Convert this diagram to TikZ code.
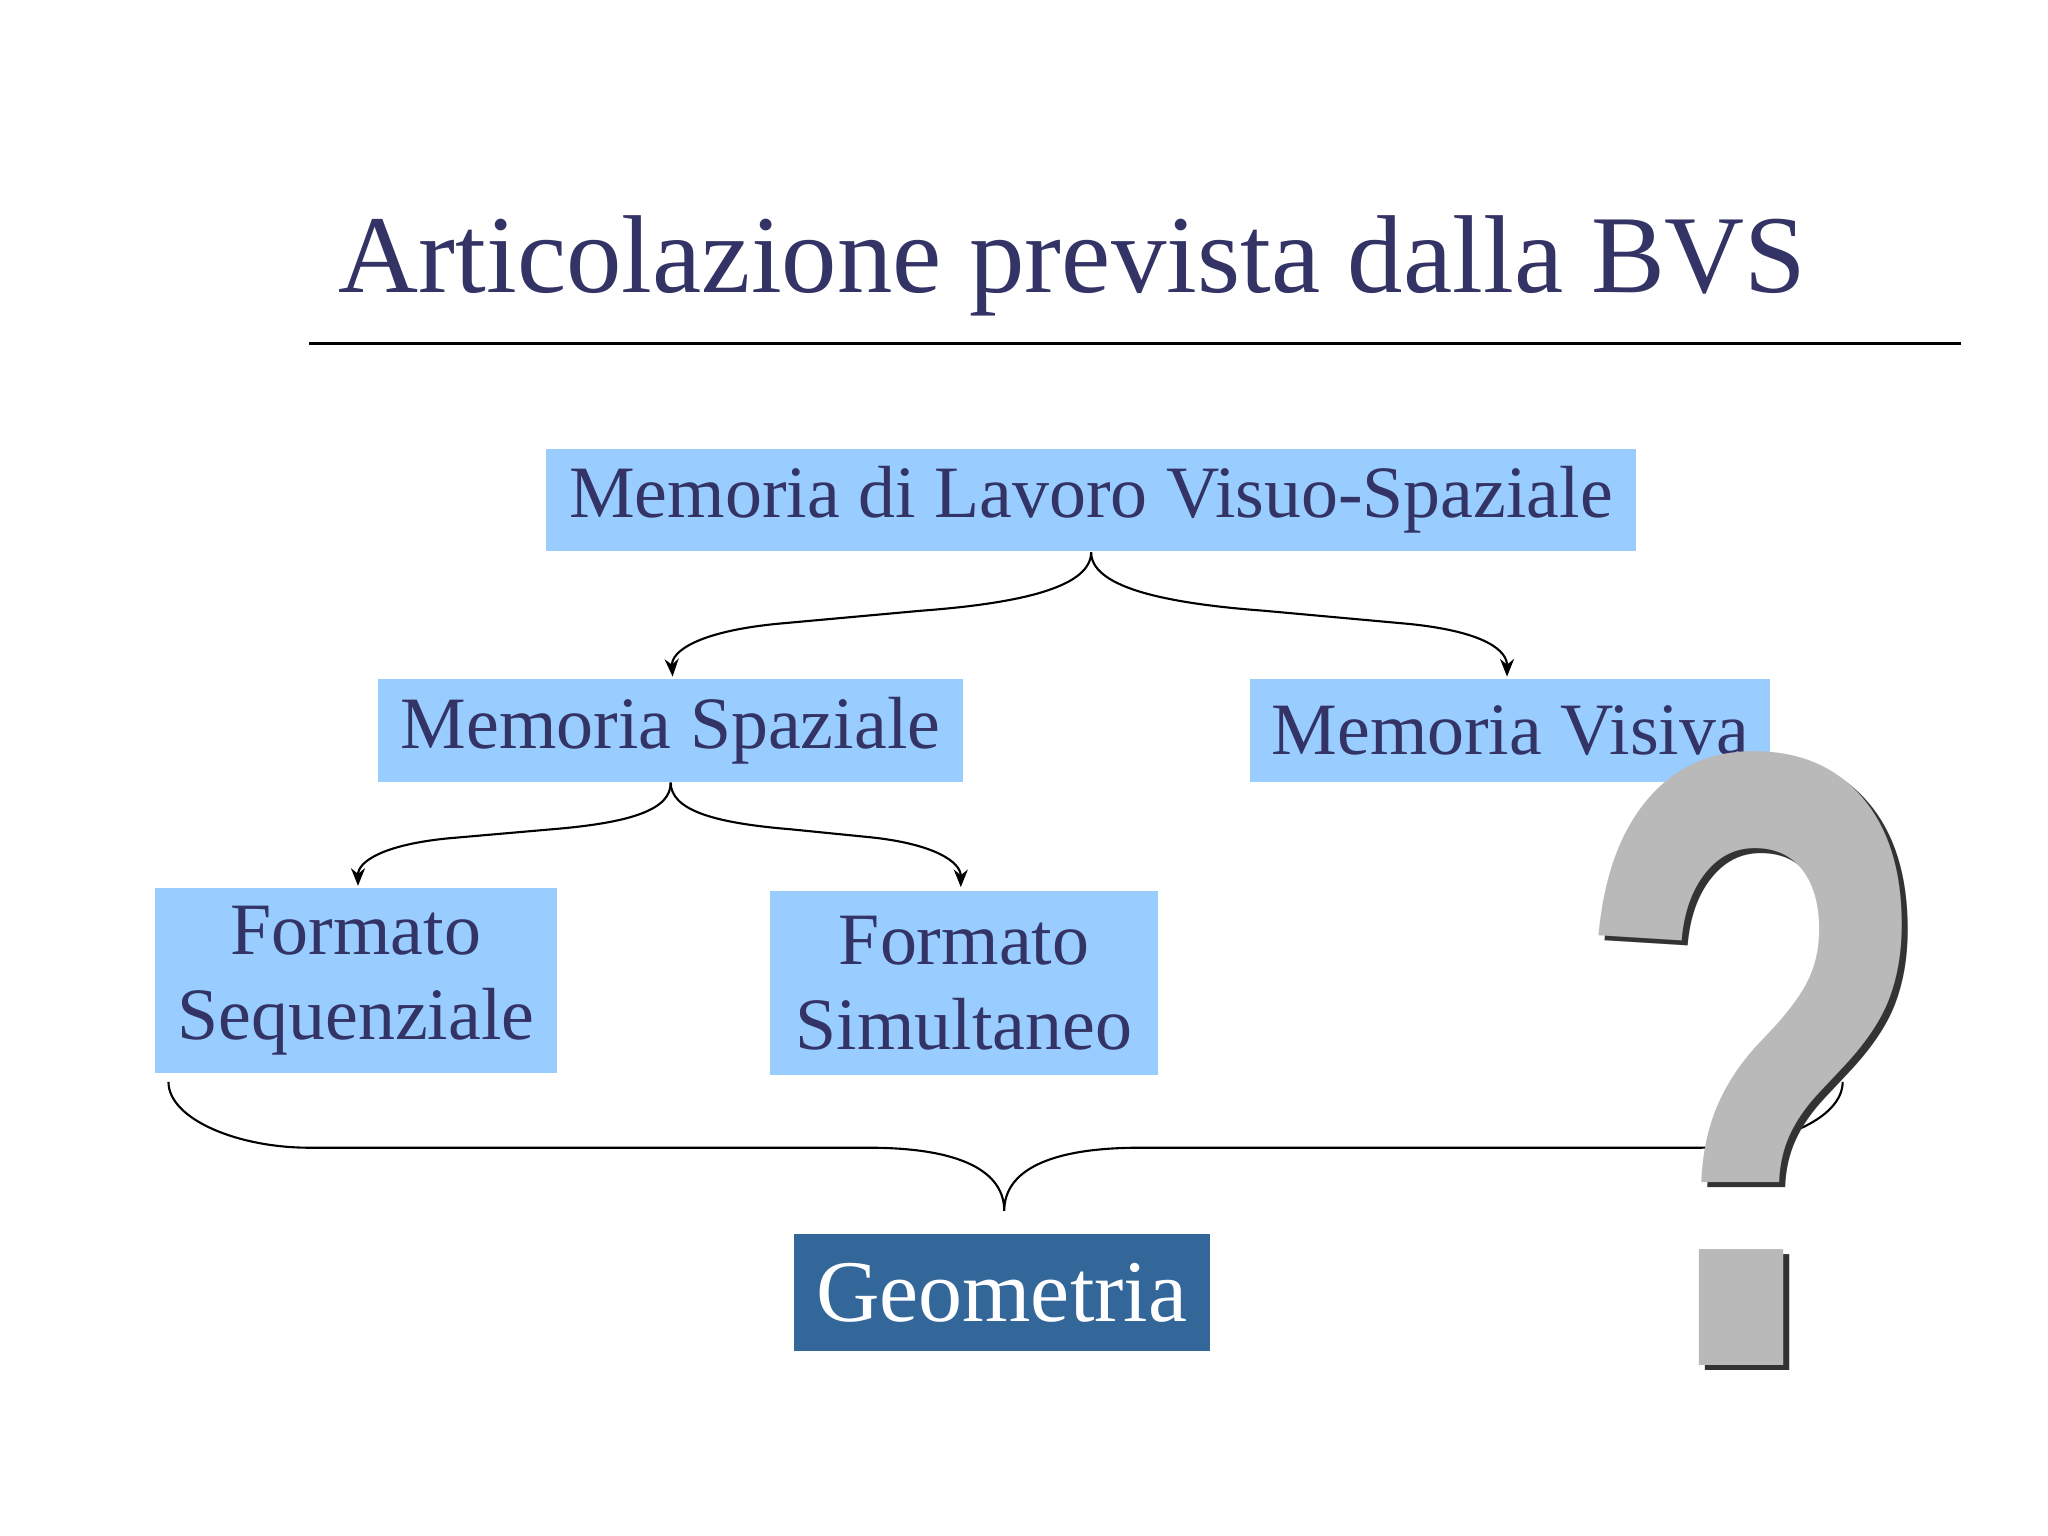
\documentclass[tikz,border=0pt]{standalone}
\usepackage{fontspec}
\setmainfont{Liberation Serif}
\newfontfamily\qfont{Liberation Sans}
\usetikzlibrary{arrows.meta}
\definecolor{txt}{HTML}{333366}
\definecolor{boxb}{HTML}{99CCFF}
\definecolor{boxd}{HTML}{336699}
\begin{document}
\begin{tikzpicture}[x=0.01316cm,y=-0.01316cm,
  lbox/.style={fill=boxb,text=txt,inner sep=0pt,font=\fontsize{21}{24}\selectfont,align=center},
  conn/.style={draw=black,line width=0.6pt,-{Stealth[length=5pt,width=4pt]}}]
\useasboundingbox (0,0) rectangle (1556,1167);
\node[text=txt,font=\fontsize{31.5}{36}\selectfont,anchor=base west] (title) at (248,222) {Articolazione prevista dalla BVS};
\draw[line width=0.8pt] (235,261) -- (1490,261);
\node[lbox,minimum width={828*0.01316cm},minimum height={78*0.01316cm}] (mlvs) at (829,380) {Memoria di Lavoro Visuo-Spaziale};
\node[lbox,minimum width={445*0.01316cm},minimum height={78*0.01316cm}] (ms) at (509.5,555) {Memoria Spaziale};
\node[lbox,minimum width={395*0.01316cm},minimum height={78*0.01316cm}] (mv) at (1147.5,555) {Memoria Visiva};
\node[lbox,minimum width={305*0.01316cm},minimum height={140*0.01316cm}] (fseq) at (270.5,745) {Formato\\Sequenziale};
\node[lbox,minimum width={295*0.01316cm},minimum height={140*0.01316cm}] (fsim) at (732.5,747) {Formato\\Simultaneo};
\node[fill=boxd,text=white,inner sep=0pt,minimum width={316*0.01316cm},minimum height={89*0.01316cm},font=\fontsize{25}{30}\selectfont] (geo) at (761,982) {Geometria};
\draw[conn] (mlvs.south) .. controls (829,445) and (780,458) .. (700,464) -- (590,474) .. controls (530,480) and (510,495) .. (511,514);
\draw[conn] (mlvs.south) .. controls (829,445) and (880,458) .. (960,464) -- (1070,474) .. controls (1130,480) and (1145,495) .. (1145,514);
\draw[conn] (ms.south) .. controls (510,615) and (480,625) .. (420,630) -- (340,637) .. controls (290,642) and (272,655) .. (272,673);
\draw[conn] (ms.south) .. controls (510,615) and (540,625) .. (600,630) -- (660,636) .. controls (710,641) and (730,655) .. (730,674);
\coordinate (bl) at (128,822);
\coordinate (br) at (1400,822);
\draw[line width=0.6pt] (bl) .. controls (128,850) and (180,872) .. (235,872) -- (660,872) .. controls (730,872) and (763,890) .. (763,920) .. controls (763,890) and (796,872) .. (866,872) -- (1290,872) .. controls (1350,872) and (1400,850) .. (br);
\node[xscale=0.68,font=\qfont\bfseries\fontsize{250}{250}\selectfont,text=gray!40!black] (qs) at (1337,808) {?};
\node[xscale=0.68,font=\qfont\bfseries\fontsize{250}{250}\selectfont,text=gray!55] (q) at (1333,804) {?};
\end{tikzpicture}
\end{document}
